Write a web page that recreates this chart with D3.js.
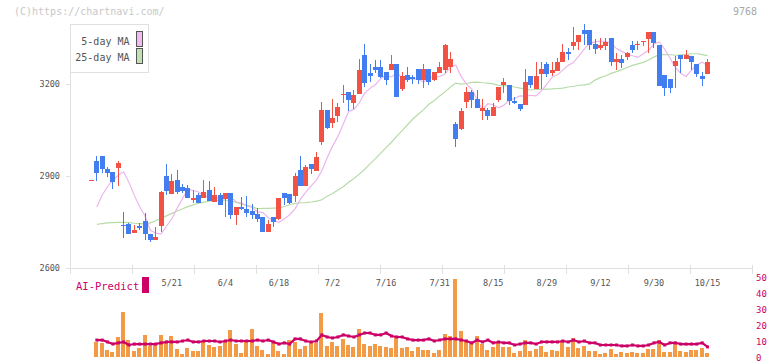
<!DOCTYPE html>
<html><head><meta charset="utf-8">
<script src="https://cdn.jsdelivr.net/npm/d3@7"></script>
<style>body{margin:0;background:#fff}svg{display:block}</style>
</head><body>
<svg id="c" width="772" height="361"></svg>
<script>
const dates = ["4/25","4/28","4/30","5/1","5/2","5/7","5/8","5/9","5/12","5/13","5/14","5/15","5/16","5/19","5/20","5/21","5/22","5/23","5/26","5/27","5/28","5/29","5/30","6/2","6/3","6/4","6/5","6/6","6/9","6/10","6/11","6/12","6/13","6/16","6/17","6/18","6/19","6/20","6/23","6/24","6/25","6/26","6/27","6/30","7/1","7/2","7/3","7/4","7/7","7/8","7/9","7/10","7/11","7/14","7/15","7/16","7/17","7/18","7/22","7/23","7/24","7/25","7/28","7/29","7/30","7/31","8/1","8/4","8/5","8/6","8/7","8/8","8/12","8/13","8/14","8/15","8/18","8/19","8/20","8/21","8/22","8/25","8/26","8/27","8/28","8/29","9/1","9/2","9/3","9/4","9/5","9/8","9/9","9/10","9/11","9/12","9/16","9/17","9/18","9/19","9/22","9/24","9/25","9/26","9/29","9/30","10/1","10/2","10/3","10/6","10/7","10/8","10/9","10/10","10/14","10/15"];
const tickLabels = ["5/21","6/4","6/18","7/2","7/16","7/31","8/15","8/29","9/12","9/30","10/15"];
const priceTicks = [2600, 2900, 3200];
const volTicks = [0, 10, 20, 30, 40, 50];

const open = [2886,2949,2965,2923,2913,2927,2740,2743,2715,2738,2753,2711,2691,2737,2900,2842,2887,2864,2861,2822,2839,2829,2854,2816,2838,2826,2845,2774,2800,2793,2786,2776,2766,2717,2766,2761,2845,2842,2836,2920,2868,2938,2917,3012,3115,3073,3097,3165,3174,3139,3168,3294,3237,3256,3256,3239,3247,3265,3184,3229,3222,3249,3213,3249,3213,3236,3246,3255,3070,3054,3141,3174,3151,3113,3115,3096,3148,3197,3197,3145,3135,3132,3226,3184,3233,3265,3236,3242,3272,3304,3324,3337,3376,3376,3330,3318,3324,3350,3273,3282,3288,3327,3327,3337,3347,3370,3327,3229,3216,3259,3295,3282,3291,3265,3226,3233];
const high = [2886,2965,2965,2930,2913,2949,2783,2746,2740,2747,2779,2711,2734,2851,2939,2907,2919,2873,2870,2854,2844,2887,2884,2864,2844,2845,2845,2799,2831,2836,2809,2797,2766,2756,2766,2829,2845,2842,2910,2965,2936,2938,2979,3141,3115,3151,3138,3197,3174,3180,3282,3330,3266,3278,3278,3239,3294,3265,3239,3257,3228,3249,3265,3249,3239,3272,3330,3304,3076,3122,3190,3180,3180,3151,3122,3138,3190,3220,3197,3158,3135,3249,3226,3272,3272,3272,3272,3285,3330,3317,3386,3360,3396,3376,3347,3350,3350,3350,3301,3295,3304,3340,3340,3340,3370,3370,3327,3229,3216,3291,3295,3311,3291,3265,3239,3282];
const low = [2886,2885,2910,2897,2859,2867,2699,2712,2715,2724,2691,2685,2691,2718,2838,2842,2840,2846,2829,2813,2813,2829,2818,2816,2806,2767,2761,2741,2790,2767,2760,2750,2717,2717,2735,2757,2804,2810,2816,2868,2868,2907,2917,3001,3052,3057,3077,3137,3112,3119,3167,3190,3207,3235,3220,3197,3247,3159,3177,3207,3199,3199,3188,3196,3210,3236,3236,3236,2996,3050,3122,3122,3122,3084,3084,3096,3140,3172,3132,3135,3112,3132,3187,3184,3184,3223,3226,3242,3272,3278,3311,3311,3327,3311,3298,3311,3311,3259,3246,3252,3278,3301,3311,3324,3301,3317,3193,3161,3171,3187,3236,3282,3246,3223,3193,3233];
const close = [2886,2911,2924,2911,2881,2942,2738,2712,2725,2731,2710,2691,2701,2848,2852,2884,2848,2851,2829,2828,2813,2848,2818,2838,2806,2845,2772,2799,2792,2780,2772,2761,2717,2744,2750,2829,2829,2812,2900,2868,2930,2924,2962,3115,3056,3089,3125,3168,3148,3164,3246,3204,3227,3246,3224,3214,3265,3159,3226,3214,3216,3213,3249,3206,3239,3255,3327,3282,3022,3112,3174,3148,3122,3122,3096,3125,3190,3207,3145,3138,3119,3207,3197,3226,3249,3233,3246,3272,3304,3299,3337,3360,3363,3327,3314,3327,3337,3272,3282,3268,3301,3311,3330,3340,3370,3334,3193,3187,3187,3275,3282,3295,3272,3233,3216,3272];
const ma5 = [null,2799,2838,2865,2887,2902.6,2913.8,2879.2,2836.8,2799.6,2769.6,2723.2,2713.8,2711.6,2736.2,2760.4,2795.2,2826.6,2856.6,2852.8,2848,2833.8,2833.8,2827.2,2829,2824.6,2831,2815.8,2812,2802.8,2797.6,2783,2780.8,2764.4,2754.8,2748.8,2760.2,2773.8,2792.8,2824,2847.6,2867.8,2886.8,2916.8,2959.8,2997.4,3029.2,3069.4,3110.6,3117.2,3138.8,3170.2,3186,3197.8,3217.4,3229.4,3223,3235.2,3221.6,3217.6,3215.6,3216,3205.6,3223.6,3219.6,3224.6,3232.4,3255.2,3261.8,3225,3199.6,3183.4,3147.6,3115.6,3135.6,3132.4,3122.6,3131,3148,3152.6,3161,3159.8,3163.2,3161.2,3177.4,3199.6,3222.4,3230.2,3245.2,3260.8,3270.8,3291.6,3314.4,3332.6,3337.2,3340.2,3338.2,3333.6,3315.4,3306.4,3297.2,3292,3286.8,3298.4,3310,3330.4,3337,3313.4,3284.8,3254.2,3235.2,3224.8,3245.2,3262.2,3271.4,3259.6];
const ma25 = [null,2742,2745,2747,2748,2749,2749,2748,2746,2745,2744,2747,2754,2762,2770,2778,2786,2793,2800,2806,2811,2815,2818,2820,2821,2821.0,2819.4,2813.8,2808.8,2804.1,2800.0,2793.2,2794.2,2794.4,2795.1,2795.9,2800.6,2806.2,2810.6,2812.7,2813.3,2815.2,2818.2,2822.6,2834.1,2843.2,2854.2,2865.3,2879.3,2891.7,2906.0,2922.1,2939.4,2956.5,2974.6,2992.4,3010.1,3030.2,3047.9,3067.2,3085.8,3101.2,3116.6,3134.1,3146.3,3161.2,3174.2,3190.3,3203.1,3199.4,3201.6,3205.0,3205.9,3204.1,3203.0,3200.3,3195.5,3194.9,3194.1,3190.1,3186.6,3182.8,3180.5,3182.0,3182.0,3183.4,3184.1,3185.4,3186.4,3190.3,3192.7,3196.0,3197.3,3200.5,3212.7,3220.8,3226.9,3234.5,3240.5,3246.9,3253.8,3260.8,3265.6,3270.6,3278.4,3287.6,3296.2,3295.7,3295.3,3293.7,3294.8,3296.7,3298.7,3298.7,3295.8,3292.5];
const volume = [null,9.4,8.8,4.4,3.1,12.5,28.1,10.6,3.8,5.6,13.8,7,7.5,13.8,10,13.1,5,2.1,5.6,3.8,3.8,10,7.5,6.3,6.9,9.4,16.9,8.1,2.5,9.4,17.5,6.9,4.4,1.9,9.4,3.8,1.9,10.6,9.4,5,6.9,8.8,8.8,27.5,6.9,9.4,6.9,11.3,7.5,6.3,17.5,8.1,6.9,8.1,7,6.3,5.6,12.5,5.6,6.3,3.8,6.3,4.4,4.4,2.5,4.4,14.4,13.1,48.8,16.3,10,8.8,13.1,8.1,4.4,6.3,8.8,6.3,6.3,2.5,3.8,10.6,3.8,5,6.9,3.1,4.4,3.8,9.4,6.3,11.9,5.6,6.9,3.8,3.8,1.9,2.5,5,1.9,3.1,2.5,3.1,2.5,2.5,5,5,10.6,3.1,3.1,8,3.8,3.1,4.4,4.4,5.6,2.5];
const aiPredict = [null,10.6,10.6,9.4,8.1,8.8,9.4,7.5,8.1,8.1,8.1,8.1,8.1,8.8,9.4,9.4,9.4,10,10.6,9.4,9.4,10,10,10,9.4,10,10.6,10,10,10,10,10.6,10,10.6,9.4,8.1,8.8,8.1,11.3,11.3,10,9.4,10,13.8,12.5,11.9,12.5,13.8,13.1,12.5,13.8,15,15,13.8,13.8,15,13.1,12.5,12.5,11.3,10.6,10.6,10.6,11.3,10,10.6,11.3,11.3,11.3,10.6,10,8.8,10.6,9.4,10.6,8.8,9.4,8.8,8.8,7.5,8.1,8.8,8.8,8.1,9.4,9.4,9.4,9.4,10,9.4,10.6,9.4,10,8.8,8.8,7.5,7.5,7.5,7.5,6.9,6.9,7.5,6.9,6.9,7.5,8.8,9.4,7.5,8.8,8.8,8.1,8.1,8.1,8.1,8.8,6.3];

const UP = "#f25243", DOWN = "#437ef0";
const AXIS = "#e0e0e0", TXT = "#555", CRIMSON = "#cc0066";
const MONO = "'DejaVu Sans Mono', monospace";

const svg = d3.select("#c");
svg.append("rect").attr("width", 772).attr("height", 361).attr("fill", "#fff");

const x = d3.scaleBand().domain(dates).range([88.8, 710.2]).padding(0);
const cx = i => x(dates[i]) + x.bandwidth() / 2;
const y = d3.scaleLinear().domain([2600, 3200]).range([268, 84]);
const yv = d3.scaleLinear().domain([0, 50]).range([357, 277]);
const grid = d3.scaleLinear().domain([0, 11]).range([70, 752]);

// watermark and code
svg.append("text").attr("x", 14).attr("y", 15).attr("font-family", MONO).attr("font-size", 10)
  .attr("fill", "#c8c8c8").text("(C)https://chartnavi.com/");
svg.append("text").attr("x", 757).attr("y", 15).attr("text-anchor", "end").attr("font-family", MONO)
  .attr("font-size", 10).attr("fill", "#a8a8a8").text("9768");

// axes
svg.append("line").attr("x1", 70.5).attr("x2", 70.5).attr("y1", 24).attr("y2", 270).attr("stroke", AXIS);
svg.append("line").attr("x1", 70).attr("x2", 752).attr("y1", 268.5).attr("y2", 268.5).attr("stroke", AXIS);
svg.append("g").selectAll("line").data(grid.ticks(11)).join("line")
  .attr("x1", d => Math.round(grid(d)) + 0.5).attr("x2", d => Math.round(grid(d)) + 0.5)
  .attr("y1", 265).attr("y2", 274).attr("stroke", AXIS);
const yt = svg.append("g").selectAll("g").data(priceTicks).join("g");
yt.append("line").attr("x1", 66).attr("x2", 70).attr("y1", d => Math.round(y(d)) + 0.5)
  .attr("y2", d => Math.round(y(d)) + 0.5).attr("stroke", AXIS);
yt.append("text").attr("x", 60).attr("y", d => y(d) + 3).attr("text-anchor", "end")
  .attr("font-family", MONO).attr("font-size", 8.5).attr("fill", TXT).text(d => d);

// legend
svg.append("rect").attr("x", 70.5).attr("y", 24.5).attr("width", 78).attr("height", 48)
  .attr("fill", "#fff").attr("stroke", AXIS);
const legend = [["5-day MA", "#f0bcf0", 44.5, 31.5], ["25-day MA", "#c0e2b2", 61, 48.5]];
legend.forEach(([t, c, ty, ry]) => {
  svg.append("text").attr("x", 129.5).attr("y", ty).attr("text-anchor", "end").attr("font-family", MONO)
    .attr("font-size", 10).attr("fill", TXT).text(t);
  svg.append("rect").attr("x", 136.5).attr("y", ry).attr("width", 6).attr("height", 15)
    .attr("fill", c).attr("stroke", "#555");
});

// moving averages
const lineFor = arr => d3.line().defined(d => d != null).x((d, i) => cx(i)).y(d => y(d))(arr);
svg.append("path").attr("d", lineFor(ma25)).attr("fill", "none").attr("stroke", "#b6dca8").attr("stroke-width", 1.2);
svg.append("path").attr("d", lineFor(ma5)).attr("fill", "none").attr("stroke", "#ecb6ec").attr("stroke-width", 1.2);

// candles
const idx = d3.range(dates.length);
const cg = svg.append("g").attr("shape-rendering", "crispEdges");
idx.forEach(i => {
  const col = close[i] >= open[i] ? UP : DOWN;
  const px = Math.round(cx(i) - 2.5);
  const yh = Math.round(y(high[i])), yl = Math.round(y(low[i]));
  if (yl > yh) cg.append("rect").attr("x", px + 2).attr("width", 1).attr("y", yh).attr("height", yl - yh).attr("fill", col);
  const yt0 = Math.round(y(Math.max(open[i], close[i]))), yb0 = Math.round(y(Math.min(open[i], close[i])));
  cg.append("rect").attr("x", px).attr("width", 5).attr("y", yt0).attr("height", Math.max(1, yb0 - yt0)).attr("fill", col);
});

// x labels
svg.append("g").selectAll("text").data(tickLabels).join("text")
  .attr("x", d => cx(dates.indexOf(d))).attr("y", 285.5).attr("text-anchor", "middle")
  .attr("font-family", MONO).attr("font-size", 8.5).attr("fill", TXT).text(d => d);

// AI-Predict label
svg.append("text").attr("x", 76).attr("y", 290).attr("font-family", MONO).attr("font-size", 10.5)
  .attr("fill", CRIMSON).text("AI-Predict");
svg.append("rect").attr("x", 142).attr("y", 277).attr("width", 7).attr("height", 16).attr("fill", CRIMSON);

// volume bars
svg.append("g").attr("shape-rendering", "crispEdges").selectAll("rect")
  .data(idx.filter(i => volume[i] != null)).join("rect")
  .attr("x", i => Math.round(cx(i) - 2.5)).attr("width", 4)
  .attr("y", i => yv(volume[i])).attr("height", i => yv(0) - yv(volume[i])).attr("fill", "#f29a45");

// AI predict line
const aiLine = d3.line().defined(d => d != null).x((d, i) => cx(i)).y(d => yv(d));
svg.append("path").attr("d", aiLine(aiPredict)).attr("fill", "none").attr("stroke", CRIMSON)
  .attr("stroke-width", 2.2).attr("stroke-linejoin", "round");
svg.append("g").selectAll("rect").data(idx.filter(i => aiPredict[i] != null)).join("rect")
  .attr("x", i => cx(i) - 1.5).attr("y", i => yv(aiPredict[i]) - 1.5).attr("width", 3).attr("height", 3)
  .attr("fill", CRIMSON);

// right volume axis
svg.append("g").selectAll("text").data(volTicks).join("text")
  .attr("x", 756).attr("y", d => yv(d) + 3.5).attr("font-family", MONO).attr("font-size", 9)
  .attr("fill", CRIMSON).text(d => d);
</script>
</body></html>
